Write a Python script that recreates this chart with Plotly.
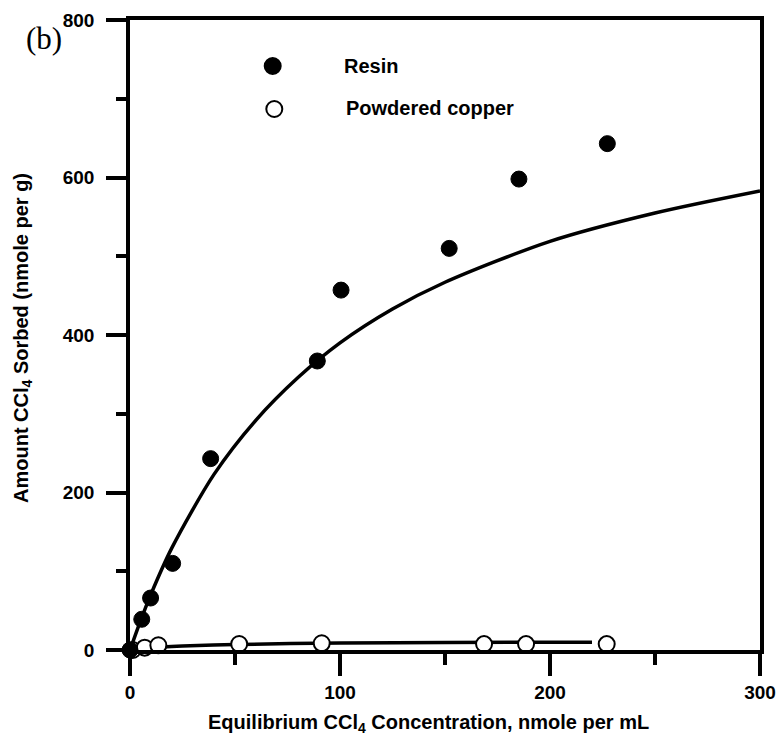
import plotly.graph_objects as go

# Sorption data: equilibrium CCl4 concentration (nmole/mL) vs amount sorbed (nmole/g)
resin_x = [0, 5.6, 9.8, 20.3, 38.4, 89.2, 100.5, 152, 185.2, 227.3]
resin_y = [0, 39, 66, 110, 243, 367, 457, 510, 598, 643]

copper_x = [1.3, 7, 13.5, 52, 91.3, 168.6, 188.6, 227]
copper_y = [0, 3, 6, 7.6, 8.5, 7.5, 7.5, 7.5]

# Fitted isotherm curves
resin_fit_x = [0, 5, 10, 20, 40, 60, 80, 100, 125, 150, 200, 250, 300]
resin_fit_y = [0, 37, 71, 130, 223, 292, 346, 390, 433, 467, 519, 555, 583]

copper_fit_x = [0, 10, 25, 50, 100, 150, 220]
copper_fit_y = [0, 3, 5, 7, 8.8, 9.5, 10]

x_ticks = [0, 100, 200, 300]
y_ticks = [0, 200, 400, 600, 800]

legend_labels = ["Resin", "Powdered copper"]

SANS = "Liberation Sans, Arial, sans-serif"
W, H = 779, 735
ML, MR, MT, MB = 130, 19, 20, 85

fig = go.Figure()

fig.add_trace(go.Scatter(
    x=resin_fit_x, y=resin_fit_y, mode="lines",
    line=dict(color="black", width=3.5, shape="spline", smoothing=0.8),
    hoverinfo="skip", showlegend=False))
fig.add_trace(go.Scatter(
    x=copper_fit_x, y=copper_fit_y, mode="lines",
    line=dict(color="black", width=3.5, shape="spline", smoothing=0.8),
    hoverinfo="skip", showlegend=False))

fig.add_trace(go.Scatter(
    x=copper_x, y=copper_y, mode="markers", name=legend_labels[1],
    marker=dict(symbol="circle", size=16, color="white",
                line=dict(color="black", width=2)),
    cliponaxis=False, showlegend=False))
fig.add_trace(go.Scatter(
    x=resin_x, y=resin_y, mode="markers", name=legend_labels[0],
    marker=dict(symbol="circle", size=16, color="black",
                line=dict(color="black", width=1)),
    cliponaxis=False, showlegend=False))

axis_common = dict(
    showline=True, linecolor="black", linewidth=3.5, mirror=True,
    ticks="outside", tickwidth=3.5, tickcolor="black",
    showgrid=False, zeroline=False, automargin=False,
    tickfont=dict(family=SANS, size=19, color="black", weight="bold"),
)

fig.update_xaxes(
    range=[0, 300], tickvals=x_ticks, ticktext=[str(v) for v in x_ticks],
    ticklen=22,
    minor=dict(ticks="outside", dtick=50, ticklen=11, tickwidth=3.5, tickcolor="black"),
    **axis_common)
fig.update_yaxes(
    range=[0, 800], tickvals=y_ticks, ticktext=[str(v) for v in y_ticks],
    ticklen=20, ticklabelstandoff=8,
    minor=dict(ticks="outside", dtick=100, ticklen=10, tickwidth=3.5, tickcolor="black"),
    **axis_common)

pw = W - ML - MR
ph = H - MT - MB


def px_to_paper(px, py):
    return (px - ML) / pw, (H - MB - py) / ph


annotations = []
shapes = []

# Legend: marker glyphs and labels
legend_rows = [
    (legend_labels[0], (272.7, 66), (341.7, 66), "black"),
    (legend_labels[1], (274.3, 109), (344, 108), "white"),
]
for label, (mx, my), (tx, ty), fill in legend_rows:
    cx, cy = px_to_paper(mx, my)
    shapes.append(dict(
        type="circle", xref="paper", yref="paper",
        xsizemode="pixel", ysizemode="pixel",
        xanchor=cx, yanchor=cy, x0=-8, x1=8, y0=-8, y1=8,
        fillcolor=fill, line=dict(color="black", width=2)))
    lx, ly = px_to_paper(tx, ty)
    annotations.append(dict(
        text=label, xref="paper", yref="paper", x=lx, y=ly,
        xanchor="left", yanchor="middle", showarrow=False,
        font=dict(family=SANS, size=20, color="black", weight="bold")))

# Axis titles
tx, ty = px_to_paper(428, 723)
annotations.append(dict(
    text="Equilibrium CCl<sub>4</sub> Concentration, nmole per mL",
    xref="paper", yref="paper", x=tx, y=ty, xanchor="center", yanchor="middle",
    showarrow=False, font=dict(family=SANS, size=20, color="black", weight="bold")))
tx, ty = px_to_paper(22, 338)
annotations.append(dict(
    text="Amount CCl<sub>4</sub> Sorbed (nmole per g)",
    xref="paper", yref="paper", x=tx, y=ty, xanchor="center", yanchor="middle",
    textangle=-90, showarrow=False,
    font=dict(family=SANS, size=20, color="black", weight="bold")))

# Panel label
tx, ty = px_to_paper(44, 38)
annotations.append(dict(
    text="(b)", xref="paper", yref="paper", x=tx, y=ty,
    xanchor="center", yanchor="middle", showarrow=False,
    font=dict(family="Liberation Serif, Times New Roman, serif", size=31, color="black")))

fig.update_layout(
    width=W, height=H,
    margin=dict(l=ML, r=MR, t=MT, b=MB, pad=0, autoexpand=False),
    paper_bgcolor="white", plot_bgcolor="white",
    showlegend=False,
    annotations=annotations, shapes=shapes,
)

fig.write_html("out.html", include_plotlyjs=True, full_html=True,
               config={"displayModeBar": False})
